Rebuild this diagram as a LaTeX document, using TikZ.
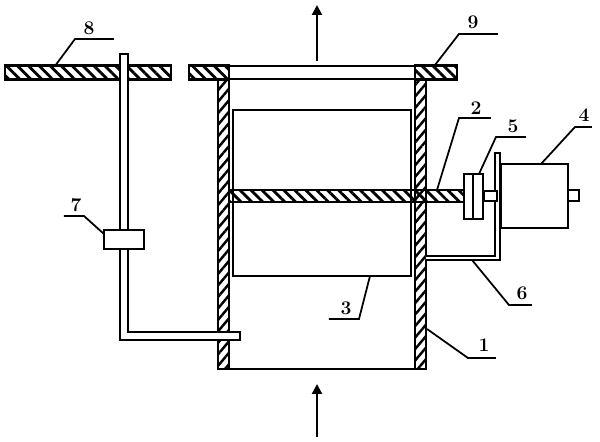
\documentclass[tikz,border=0pt]{standalone}
\usepackage{tikz}
\usetikzlibrary{arrows.meta,patterns.meta}

\begin{document}
\begin{tikzpicture}[x=0.02cm,y=-0.02cm,
	plate/.style={draw=black, line width=1.2pt, pattern={Lines[angle=-45,distance=4.4pt,line width=1.6pt]}},
	wall/.style={draw=black, line width=1.4pt, pattern={Lines[angle=50,distance=4.2pt,line width=1.4pt]}},
	part/.style={draw=black, line width=1.2pt, fill=white},
	thinpart/.style={draw=black, line width=1pt},
	leader/.style={draw=black, line width=1pt},
	flow/.style={draw=black, line width=1.2pt, -{Triangle[length=2mm,width=2mm]}},
	num/.style={font=\bfseries\fontsize{11}{11}\selectfont, inner sep=0pt}]
		\useasboundingbox (0,0) rectangle (600,442);

		% plates
		\draw[plate] (5,65.5) rectangle (171,79.5);
		\draw[part] (189,66) rectangle (457,79);
		\draw[plate] (189,65.5) rectangle (229,79.5);
		\draw[plate] (415,65.5) rectangle (457,79.5);

		% duct
		\draw[thinpart] (218,369) -- (426,369);
		\draw[wall] (218,79) rectangle (229,369);
		\draw[wall] (415,79) rectangle (426,369);
		\draw[thinpart] (233,110) rectangle (411,276);
		\draw[plate] (229,190) rectangle (464,202);

		% pipe and valve
		\draw[part] (120,54) -- (128,54) -- (128,332) -- (240,332) -- (240,340) -- (120,340) -- cycle;
		\draw[part] (104,230) rectangle (144,249);

		% bracket, coupling and motor
		\draw[part] (426,256) -- (495,256) -- (495,153) -- (500,153) -- (500,260) -- (426,260);
		\draw[part] (484,191) rectangle (497,201);
		\draw[part] (464,174) rectangle (483,219);
		\draw[thinpart] (473,174) -- (473,219);
		\draw[part] (501,164) rectangle (568,228);
		\draw[part] (568,190) rectangle (579,201);

		% flow
		\coordinate (top1) at (317,61);
		\coordinate (top2) at (317,5);
		\coordinate (bot1) at (317,437);
		\coordinate (bot2) at (317,384);
		\draw[flow] (top1) -- (top2);
		\draw[flow] (bot1) -- (bot2);

		% leaders
		\coordinate (p1) at (427,329);
		\coordinate (k1) at (468,358);
		\coordinate (e1) at (496,358);
		\draw[leader] (p1) -- (k1) -- (e1);
		\coordinate (p2) at (437,190);
		\coordinate (k2) at (459,118);
		\coordinate (e2) at (491,118);
		\draw[leader] (p2) -- (k2) -- (e2);
		\coordinate (p3) at (370,276);
		\coordinate (k3) at (359,319);
		\coordinate (e3) at (329,319);
		\draw[leader] (p3) -- (k3) -- (e3);
		\coordinate (p4) at (541,164);
		\coordinate (k4) at (575,127);
		\coordinate (e4) at (592,127);
		\draw[leader] (p4) -- (k4) -- (e4);
		\coordinate (p5) at (479,174);
		\coordinate (k5) at (496,137);
		\coordinate (e5) at (526,137);
		\draw[leader] (p5) -- (k5) -- (e5);
		\coordinate (p6) at (472,260);
		\coordinate (k6) at (509,305);
		\coordinate (e6) at (532,305);
		\draw[leader] (p6) -- (k6) -- (e6);
		\coordinate (p7) at (104,234);
		\coordinate (k7) at (84,216);
		\coordinate (e7) at (64,216);
		\draw[leader] (p7) -- (k7) -- (e7);
		\coordinate (p8) at (55,66);
		\coordinate (k8) at (75,39);
		\coordinate (e8) at (114,39);
		\draw[leader] (p8) -- (k8) -- (e8);
		\coordinate (p9) at (435,65);
		\coordinate (k9) at (459,34);
		\coordinate (e9) at (498,34);
		\draw[leader] (p9) -- (k9) -- (e9);

		% numbers
		\node[num] (n1) at (484,345) {1};
		\node[num] (n2) at (476,108) {2};
		\node[num] (n3) at (346,308) {3};
		\node[num] (n4) at (584,115) {4};
		\node[num] (n5) at (513,126) {5};
		\node[num] (n6) at (522,293) {6};
		\node[num] (n7) at (76,205) {7};
		\node[num] (n8) at (89,28) {8};
		\node[num] (n9) at (473,22) {9};
	\end{tikzpicture}
\end{document}
